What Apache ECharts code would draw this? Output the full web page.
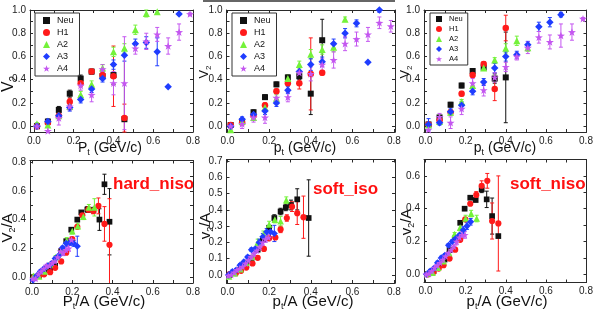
<!DOCTYPE html>
<html><head><meta charset="utf-8">
<script src="https://cdn.jsdelivr.net/npm/echarts@6/dist/echarts.min.js"></script>
<style>html,body{margin:0;padding:0;background:#fff}#c{width:597px;height:312px}</style>
</head><body><div id="c"></div>
<script>
// ---------- shared pt bins (top row) ----------
const PT = [0.015,0.07,0.125,0.18,0.235,0.29,0.345,0.40,0.455,0.51,0.565,0.62,0.675,0.73,0.785];

// ---------- top-left ----------
const TL_NEU   = [0.00,0.04,0.14,0.28,0.41,0.47,0.43,0.44,0.06];
const TL_NEU_E = [0.01,0.02,0.03,0.03,0.03,0.02,0.03,0.08,0.55];
const TL_H1    = [0.00,0.03,0.09,0.21,0.37,0.47,0.44,0.43,0.07];
const TL_H1_E  = [0.01,0.01,0.02,0.03,0.03,0.02,0.03,0.26,0.12];
const TL_A2    = [0.02,0.01,0.09,0.17,0.27,0.36,0.50,0.64,0.67,0.83,0.97,0.985];
const TL_A2_E  = [0.01,0.02,0.02,0.03,0.03,0.03,0.03,0.04,0.04,0.04,0.03,0.02];
const TL_A3    = [0.00,0.04,0.09,0.16,0.23,0.32,0.41,0.53,0.61,0.71,0.72,0.64,0.34,0.965];
const TL_A3_E  = [0.01,0.02,0.02,0.03,0.03,0.03,0.03,0.04,0.05,0.04,0.05,0.12,0.0,0.01];
const TL_A4    = [0.00,-0.04,0.07,0.17,0.35,0.27,0.49,0.37,0.37,0.67,0.73,0.79,0.69,0.81,0.965];
const TL_A4_E  = [0.02,0.03,0.06,0.03,0.04,0.06,0.04,0.10,0.40,0.05,0.07,0.06,0.07,0.07,0.01];

// ---------- top-middle ----------
const TM_NEU   = [0.01,0.04,0.12,0.25,0.36,0.42,0.43,0.28,0.74];
const TM_NEU_E = [0.01,0.01,0.02,0.02,0.02,0.02,0.03,0.18,0.18];
const TM_H1    = [0.01,0.03,0.09,0.18,0.30,0.37,0.37,0.45,0.46];
const TM_H1_E  = [0.01,0.01,0.02,0.02,0.02,0.02,0.05,0.31,0.02];
const TM_A2    = [-0.03,0.04,0.075,0.16,0.24,0.41,0.53,0.62,0.66,0.68,0.92];
const TM_A2_E  = [0.01,0.02,0.02,0.02,0.03,0.03,0.03,0.04,0.04,0.04,0.02];
const TM_A3    = [0.00,0.06,0.10,0.13,0.20,0.31,0.47,0.53,0.555,0.71,0.80,0.885,0.55,1.0];
const TM_A3_E  = [0.01,0.02,0.02,0.03,0.03,0.03,0.04,0.05,0.04,0.04,0.04,0.03,0.0,0.02];
const TM_A4    = [0.00,0.02,0.075,0.075,0.245,0.25,0.46,0.45,0.53,0.57,0.71,0.75,0.79,0.89,0.86];
const TM_A4_E  = [0.02,0.04,0.04,0.05,0.04,0.04,0.05,0.06,0.05,0.07,0.06,0.06,0.06,0.05,0.05];

// ---------- top-right ----------
const TR_NEU   = [0.015,0.075,0.185,0.35,0.475,0.505,0.41,0.42];
const TR_NEU_E = [0.01,0.01,0.02,0.02,0.02,0.02,0.04,0.39];
const TR_H1    = [0.015,0.05,0.12,0.28,0.44,0.535,0.32,0.845];
const TR_H1_E  = [0.01,0.02,0.02,0.02,0.02,0.02,0.10,0.11];
const TR_A2    = [0.01,0.04,0.12,0.21,0.35,0.50,0.57,0.67,0.735,0.675];
const TR_A2_E  = [0.01,0.02,0.02,0.02,0.02,0.02,0.02,0.04,0.04,0.03];
const TR_A3    = [0.015,0.03,0.125,0.18,0.30,0.38,0.50,0.60,0.615,0.70,0.855,0.895,0.96];
const TR_A3_E  = [0.05,0.02,0.03,0.03,0.03,0.03,0.04,0.04,0.03,0.03,0.04,0.04,0.02];
const TR_A4    = [-0.03,0.08,0.03,0.15,0.37,0.31,0.42,0.51,0.60,0.675,0.765,0.725,0.78,0.81,0.925];
const TR_A4_E  = [0.03,0.03,0.05,0.05,0.04,0.05,0.04,0.04,0.03,0.05,0.05,0.06,0.10,0.07,0.01];

// ---------- bottom rows: pt/A positions per species ----------
const PTA2 = [0.0075,0.035,0.0625,0.09,0.1175,0.145,0.1725,0.2,0.2275,0.255,0.2825,0.31];
const PTA3 = [0.005,0.0233,0.0417,0.06,0.0783,0.0967,0.115,0.1333,0.1517,0.17,0.1883,0.2067,0.225];
const PTA4 = [0.00375,0.0175,0.03125,0.045,0.05875,0.0725,0.08625,0.1,0.11375,0.1275,0.14125,0.155,0.16875,0.1825,0.19625];

// ---------- bottom-left (hard_niso) ----------
const BL_NEU_X = [0.005,0.035,0.06,0.09,0.115,0.145,0.17,0.195,0.225,0.245,0.275,0.305,0.335,0.36,0.385];
const BL_NEU   = [0.00,0.01,0.03,0.06,0.08,0.18,0.25,0.33,0.40,0.45,0.47,0.465,0.40,0.645,0.385];
const BL_NEU_E = [0.01,0.01,0.01,0.01,0.01,0.01,0.01,0.01,0.01,0.01,0.02,0.02,0.075,0.07,0.23];
const BL_H1_X  = [0.01,0.035,0.06,0.09,0.115,0.145,0.17,0.2,0.225,0.25,0.28,0.305,0.33,0.36,0.385];
const BL_H1    = [0.00,0.01,0.02,0.035,0.065,0.11,0.17,0.265,0.35,0.43,0.47,0.46,0.495,0.37,0.225];
const BL_H1_E  = [0.01,0.01,0.01,0.01,0.01,0.01,0.01,0.01,0.01,0.01,0.02,0.02,0.055,0.12,0.32];
const BL_A2    = [0.01,0.005,0.04,0.09,0.14,0.18,0.255,0.32,0.355,0.42,0.485,0.485];
const BL_A2_E  = [0.01,0.01,0.01,0.01,0.01,0.01,0.02,0.02,0.02,0.02,0.02,0.06];
const BL_A3    = [-0.02,0.01,0.04,0.06,0.08,0.095,0.13,0.15,0.205,0.235,0.24,0.235,0.215];
const BL_A3_E  = [0.01,0.01,0.01,0.01,0.01,0.01,0.01,0.01,0.01,0.02,0.02,0.02,0.07];
const BL_A4    = [-0.01,-0.01,0.02,0.04,0.06,0.08,0.08,0.10,0.11,0.14,0.18,0.17,0.19,0.20,0.26];
const BL_A4_E  = [0.01,0.01,0.01,0.01,0.01,0.01,0.01,0.01,0.01,0.01,0.02,0.02,0.02,0.02,0.02];

// ---------- bottom-middle (soft_iso) ----------
const BM_NEU_X = [0.01,0.035,0.06,0.09,0.115,0.145,0.17,0.2,0.225,0.255,0.28,0.305,0.335,0.39];
const BM_NEU   = [0.00,0.01,0.03,0.06,0.10,0.155,0.22,0.29,0.35,0.39,0.415,0.43,0.465,0.35];
const BM_NEU_E = [0.01,0.01,0.01,0.01,0.01,0.01,0.01,0.01,0.02,0.02,0.02,0.03,0.065,0.235];
const BM_H1_X  = [0.01,0.04,0.065,0.09,0.12,0.145,0.175,0.2,0.23,0.255,0.285,0.31,0.335,0.365];
const BM_H1    = [0.005,0.01,0.025,0.045,0.07,0.105,0.16,0.225,0.23,0.28,0.35,0.42,0.38,0.355];
const BM_H1_E  = [0.01,0.01,0.01,0.01,0.01,0.01,0.01,0.01,0.01,0.02,0.02,0.03,0.07,0.13];
const BM_A2    = [-0.01,0.01,0.035,0.075,0.11,0.20,0.25,0.31,0.34,0.33,0.46];
const BM_A2_E  = [0.01,0.01,0.01,0.01,0.01,0.02,0.02,0.02,0.02,0.03,0.02];
const BM_A3    = [0.00,0.02,0.03,0.06,0.08,0.11,0.155,0.16,0.20,0.235,0.265,0.265,0.255];
const BM_A3_E  = [0.01,0.01,0.01,0.01,0.01,0.01,0.01,0.01,0.02,0.02,0.02,0.03,0.05];
const BM_A4    = [-0.005,0.00,0.015,0.03,0.04,0.05,0.07,0.09,0.11,0.13,0.15,0.17,0.20,0.22,0.23];
const BM_A4_E  = [0.01,0.01,0.01,0.01,0.01,0.01,0.01,0.01,0.01,0.01,0.01,0.01,0.02,0.02,0.02];

// ---------- bottom-right (soft_niso) ----------
const BR_NEU_X = [0.01,0.04,0.07,0.095,0.12,0.148,0.173,0.195,0.223,0.25,0.28,0.305,0.332,0.363];
const BR_NEU   = [0.00,0.02,0.06,0.09,0.147,0.218,0.314,0.40,0.467,0.453,0.518,0.457,0.355,0.233];
const BR_NEU_E = [0.01,0.01,0.01,0.01,0.01,0.01,0.01,0.01,0.01,0.01,0.02,0.05,0.11,0.0];
const BR_H1_X  = [0.01,0.04,0.066,0.09,0.12,0.148,0.173,0.198,0.223,0.253,0.28,0.308,0.332,0.363];
const BR_H1    = [0.00,0.014,0.035,0.055,0.096,0.15,0.21,0.335,0.43,0.484,0.54,0.57,0.325,0.31];
const BR_H1_E  = [0.01,0.01,0.01,0.01,0.01,0.01,0.01,0.01,0.01,0.02,0.03,0.045,0.11,0.29];
const BR_A2    = [0.005,0.01,0.04,0.08,0.13,0.245,0.285,0.34,0.37,0.34];
const BR_A2_E  = [0.01,0.01,0.01,0.01,0.01,0.01,0.02,0.02,0.02,0.02];
const BR_A3    = [0.00,0.02,0.035,0.07,0.10,0.116,0.177,0.20,0.22,0.24,0.27,0.294,0.32];
const BR_A3_E  = [0.01,0.01,0.01,0.01,0.01,0.01,0.01,0.01,0.01,0.01,0.02,0.02,0.02];
const BR_A4    = [0.00,0.005,0.02,0.04,0.055,0.07,0.09,0.11,0.13,0.15,0.17,0.20,0.225,0.24,0.24];
const BR_A4_E  = [0.01,0.01,0.01,0.01,0.01,0.01,0.01,0.01,0.01,0.01,0.01,0.02,0.02,0.02,0.02];

// ---------- ticks ----------
const X_LABELS = [0,0.2,0.4,0.6,0.8];
const X_TICKS  = [0,0.1,0.2,0.3,0.4,0.5,0.6,0.7,0.8];
const TOP_Y_LABELS = [0,0.2,0.4,0.6,0.8,1.0];
const TOP_Y_TICKS  = [0,0.1,0.2,0.3,0.4,0.5,0.6,0.7,0.8,0.9,1.0];
const BL_Y_LABELS = [0,0.2,0.4,0.6,0.8];
const BL_Y_TICKS  = [0,0.1,0.2,0.3,0.4,0.5,0.6,0.7,0.8];
const BM_Y_LABELS = [0,0.1,0.2,0.3,0.4,0.5,0.6,0.7];
const BM_Y_TICKS  = [0,0.1,0.2,0.3,0.4,0.5,0.6,0.7];
const BR_Y_LABELS = [0,0.2,0.4,0.6];
const BR_Y_TICKS  = [0,0.1,0.2,0.3,0.4,0.5,0.6,0.7];

const SPECIES = ['Neu','H1','A2','A3','A4'];
const COLORS = {Neu:'#111111', H1:'#ff1a1a', A2:'#74f23a', A3:'#1f3dff', A4:'#c457f0'};
const STAR = 'path://M0,-10L2.35,-3.24L9.51,-3.09L3.8,1.24L5.88,8.09L0,4L-5.88,8.09L-3.8,1.24L-9.51,-3.09L-2.35,-3.24Z';
const SYMBOLS = {Neu:'rect', H1:'circle', A2:'triangle', A3:'diamond', A4:STAR};
const SIZE = {Neu:6, H1:6.5, A2:7, A3:7.5, A4:8};
const FONT = '"Liberation Sans", Arial, sans-serif';

function pts(xs, ys, es){ return ys.map((y,i)=>[xs[i], y, es[i]]); }

const panels = [
  {left:30, top:10, width:163, height:122, xMin:-0.02, xMax:0.8, yMin:-0.05, yMax:1.0, yL:TOP_Y_LABELS, yT:TOP_Y_TICKS, s:1,
   d:{Neu:pts(PT,TL_NEU,TL_NEU_E), H1:pts(PT,TL_H1,TL_H1_E), A2:pts(PT,TL_A2,TL_A2_E), A3:pts(PT,TL_A3,TL_A3_E), A4:pts(PT,TL_A4,TL_A4_E)}},
  {left:226.5, top:10, width:168.5, height:122, xMin:-0.005, xMax:0.805, yMin:-0.05, yMax:1.0, yL:TOP_Y_LABELS, yT:TOP_Y_TICKS, s:1,
   d:{Neu:pts(PT,TM_NEU,TM_NEU_E), H1:pts(PT,TM_H1,TM_H1_E), A2:pts(PT,TM_A2,TM_A2_E), A3:pts(PT,TM_A3,TM_A3_E), A4:pts(PT,TM_A4,TM_A4_E)}},
  {left:424, top:10, width:162.5, height:122, xMin:-0.0075, xMax:0.8025, yMin:-0.05, yMax:1.0, yL:TOP_Y_LABELS, yT:TOP_Y_TICKS, s:1,
   d:{Neu:pts(PT,TR_NEU,TR_NEU_E), H1:pts(PT,TR_H1,TR_H1_E), A2:pts(PT,TR_A2,TR_A2_E), A3:pts(PT,TR_A3,TR_A3_E), A4:pts(PT,TR_A4,TR_A4_E)}},
  {left:30, top:160.5, width:163, height:122.5, xMin:-0.01, xMax:0.8, yMin:-0.04, yMax:0.81, yL:BL_Y_LABELS, yT:BL_Y_TICKS, s:0.95,
   d:{Neu:pts(BL_NEU_X,BL_NEU,BL_NEU_E), H1:pts(BL_H1_X,BL_H1,BL_H1_E), A2:pts(PTA2,BL_A2,BL_A2_E), A3:pts(PTA3,BL_A3,BL_A3_E), A4:pts(PTA4,BL_A4,BL_A4_E)}},
  {left:226.5, top:159.5, width:168.5, height:123.5, xMin:-0.005, xMax:0.805, yMin:-0.05, yMax:0.71, yL:BM_Y_LABELS, yT:BM_Y_TICKS, s:0.95,
   d:{Neu:pts(BM_NEU_X,BM_NEU,BM_NEU_E), H1:pts(BM_H1_X,BM_H1,BM_H1_E), A2:pts(PTA2,BM_A2,BM_A2_E), A3:pts(PTA3,BM_A3,BM_A3_E), A4:pts(PTA4,BM_A4,BM_A4_E)}},
  {left:424, top:159.5, width:162.5, height:123, xMin:-0.0075, xMax:0.8025, yMin:-0.05, yMax:0.70, yL:BR_Y_LABELS, yT:BR_Y_TICKS, s:0.95,
   d:{Neu:pts(BR_NEU_X,BR_NEU,BR_NEU_E), H1:pts(BR_H1_X,BR_H1,BR_H1_E), A2:pts(PTA2,BR_A2,BR_A2_E), A3:pts(PTA3,BR_A3,BR_A3_E), A4:pts(PTA4,BR_A4,BR_A4_E)}}
];

function errRender(params, api){
  const x = api.value(0), y = api.value(1), e = api.value(2);
  if (!e) return null;
  const cs = params.coordSys;
  const c = api.coord([x, y]);
  let t = api.coord([x, y + e])[1], b = api.coord([x, y - e])[1];
  const yTop = cs.y, yBot = cs.y + cs.height;
  const color = api.visual('color');
  const ch = [];
  const tt = Math.max(t, yTop), bb = Math.min(b, yBot);
  ch.push({type:'line', shape:{x1:c[0], y1:tt, x2:c[0], y2:bb}, style:{stroke:color, lineWidth:1}});
  if (t >= yTop) ch.push({type:'line', shape:{x1:c[0]-2, y1:t, x2:c[0]+2, y2:t}, style:{stroke:color, lineWidth:1}});
  if (b <= yBot) ch.push({type:'line', shape:{x1:c[0]-2, y1:b, x2:c[0]+2, y2:b}, style:{stroke:color, lineWidth:1}});
  return {type:'group', children:ch};
}

const grid = [], xAxis = [], yAxis = [], series = [];
const axColor = '#2a2a2a';
panels.forEach((p, i) => {
  grid.push({left:p.left, top:p.top, width:p.width, height:p.height, containLabel:false, outerBoundsMode:'none'});
  ['bottom','top'].forEach((pos, k) => {
    xAxis.push({type:'value', gridIndex:i, position:pos, min:p.xMin, max:p.xMax,
      axisLine:{show:true, onZero:false, lineStyle:{color:axColor, width:1}},
      axisTick:{show:true, inside:true, length:3, customValues:X_TICKS, lineStyle:{color:axColor}},
      axisLabel:{show:k===0, customValues:X_LABELS, formatter:v=>v.toFixed(1), fontSize:10, color:'#222', margin:4, fontFamily:FONT},
      splitLine:{show:false}});
  });
  ['left','right'].forEach((pos, k) => {
    yAxis.push({type:'value', gridIndex:i, position:pos, min:p.yMin, max:p.yMax,
      axisLine:{show:true, onZero:false, lineStyle:{color:axColor, width:1}},
      axisTick:{show:true, inside:true, length:3, customValues:p.yT, lineStyle:{color:axColor}},
      axisLabel:{show:k===0, customValues:p.yL, formatter:v=>v.toFixed(1), fontSize:10, color:'#222', margin:4, fontFamily:FONT},
      splitLine:{show:false}});
  });
  SPECIES.forEach(sp => {
    series.push({type:'custom', name:sp+'_err'+i, xAxisIndex:2*i, yAxisIndex:2*i, data:p.d[sp],
      renderItem:errRender, itemStyle:{color:COLORS[sp], opacity:0.85}, z:2, silent:true, animation:false});
  });
  SPECIES.forEach(sp => {
    series.push({type:'scatter', name:sp, xAxisIndex:2*i, yAxisIndex:2*i,
      data:p.d[sp].map(d=>[d[0], d[1]]), symbol:SYMBOLS[sp], symbolKeepAspect:true,
      symbolSize:SIZE[sp]*p.s, itemStyle:{color:COLORS[sp], opacity:1}, z:3, silent:true, animation:false});
  });
});

function legendAt(left, top, fs, iw, gap, pad){
  return {show:true, left, top, orient:'vertical', data:SPECIES, selectedMode:false,
    itemWidth:iw, itemHeight:iw, itemGap:gap, padding:pad, borderColor:'#333', borderWidth:1,
    textStyle:{fontSize:fs, color:'#111', fontFamily:FONT, padding:[0,0,0,2]}, icon:null};
}

function sub(txt, big, small){ return txt; }
function vtext(x, y, str, fs, rot){
  return {type:'text', x, y, rotation: rot ? Math.PI/2 : 0, silent:true,
    style:{text:str, align:'center', verticalAlign:'middle', fontFamily:FONT, fill:'#111',
      rich:{a:{fontSize:fs, fontFamily:FONT, fill:'#111'}, b:{fontSize:Math.round(fs*0.62), fontFamily:FONT, fill:'#111', verticalAlign:'bottom', padding:[0,0,-2,0]}}}};
}
function tag(x, y, str){
  return {type:'text', x, y, silent:true, style:{text:str, align:'left', verticalAlign:'middle', fontFamily:FONT, fontWeight:'bold', fontSize:17, fill:'#ff1010'}};
}

const graphic = [
  {type:'line', shape:{x1:203, y1:1, x2:395, y2:1}, style:{stroke:'#333', lineWidth:1.5}, silent:true},
  vtext(9, 84, '{a|V}{b|2}', 16, true),
  vtext(204, 72, '{a|V}{b|2}', 13, true),
  vtext(405, 72, '{a|V}{b|2}', 13, true),
  vtext(8, 228, '{a|V}{b|2}{a|/A}', 15, true),
  vtext(206, 226, '{a|v}{b|2}{a|/A}', 15, true),
  vtext(407, 222, '{a|v}{b|2}{a|/A}', 15, true),
  vtext(110, 148, '{a|P}{b|t}{a| (GeV/c)}', 14, false),
  vtext(305, 148, '{a|p}{b|t}{a| (GeV/c)}', 14, false),
  vtext(505, 148, '{a|p}{b|t}{a| (GeV/c)}', 14, false),
  vtext(104, 302, '{a|P}{b|t}{a|/A (GeV/c)}', 15, false),
  vtext(313, 302, '{a|p}{b|t}{a|/A (GeV/c)}', 15, false),
  vtext(507, 302, '{a|p}{b|t}{a|/A (GeV/c)}', 15, false),
  tag(113, 184, 'hard_niso'),
  tag(313, 189, 'soft_iso'),
  tag(510, 184, 'soft_niso')
];

const chart = echarts.init(document.getElementById('c'), null, {renderer:'canvas'});
chart.setOption({
  animation:false,
  backgroundColor:'#fff',
  grid, xAxis, yAxis, series,
  legend:[
    legendAt(35, 13, 9, 7, 3, [3,6,3,8]),
    legendAt(232, 13, 9, 7, 3, [3,6,3,8]),
    legendAt(430, 13, 7.5, 6, 2, [2,5,2,6])
  ],
  graphic
});
</script></body></html>
